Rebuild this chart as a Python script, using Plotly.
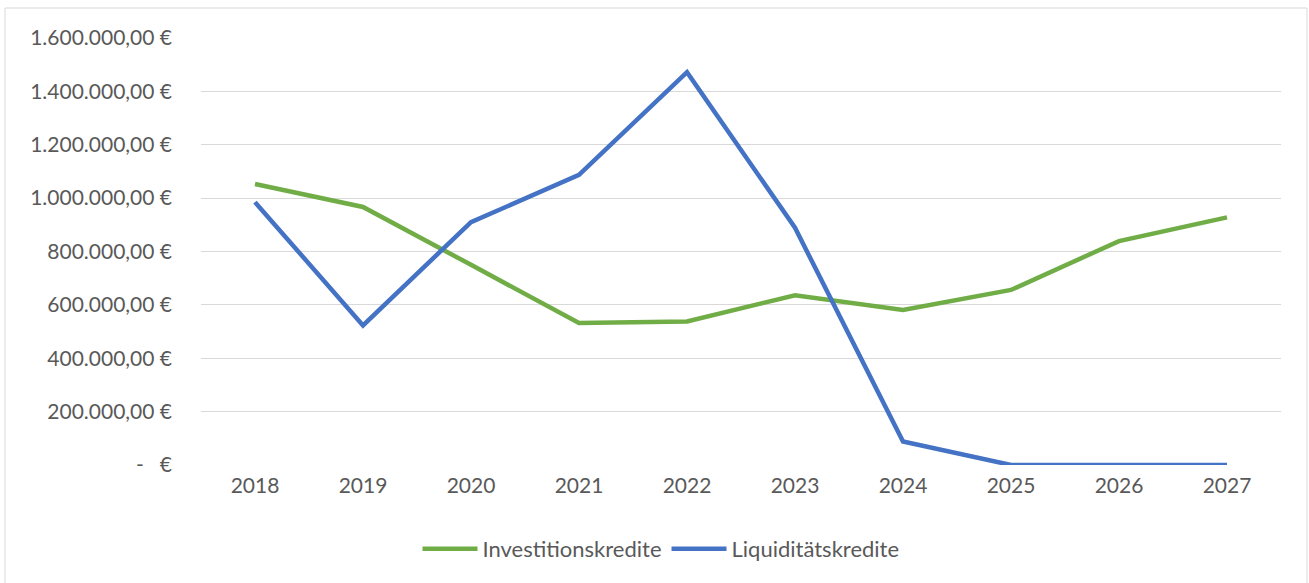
import plotly.graph_objects as go

years = ["2018", "2019", "2020", "2021", "2022", "2023", "2024", "2025", "2026", "2027"]
investitionskredite = [1053000, 967000, 750000, 532000, 538000, 636000, 581000, 656000, 839000, 928000]
liquiditaetskredite = [985000, 523000, 910000, 1087000, 1472000, 889000, 88000, 0, 0, 0]
tick_vals = [0, 200000, 400000, 600000, 800000, 1000000, 1200000, 1400000, 1600000]
tick_text = ["-   €", "200.000,00 €", "400.000,00 €", "600.000,00 €", "800.000,00 €",
             "1.000.000,00 €", "1.200.000,00 €", "1.400.000,00 €", "1.600.000,00 €"]

W, H = 1309, 583
ml, mr, mt, mb = 201, 28, 38, 118
pw, ph = W - ml - mr, H - mt - mb

fig = go.Figure()
fig.add_trace(go.Scatter(x=years, y=investitionskredite, mode="lines", name="Investitionskredite",
                         line=dict(color="#70AD47", width=4.5)))
fig.add_trace(go.Scatter(x=years, y=liquiditaetskredite, mode="lines", name="Liquiditätskredite",
                         line=dict(color="#4472C4", width=4.5)))

def px_x(p):
    return (p - ml) / pw

def px_y(p):
    return (H - mb - p) / ph

fig.add_shape(type="rect", xref="paper", yref="paper",
              x0=px_x(5), x1=px_x(1307), y0=px_y(600), y1=px_y(8),
              line=dict(color="#D9D9D9", width=1), fillcolor="rgba(0,0,0,0)", layer="below")

fig.update_layout(
    width=W, height=H,
    margin=dict(l=ml, r=mr, t=mt, b=mb),
    paper_bgcolor="white", plot_bgcolor="white",
    font=dict(family="Lato, 'Open Sans', sans-serif", size=21, color="#595959"),
    xaxis=dict(type="category", range=[-0.5, 9.5], showgrid=False, zeroline=False,
               showline=False, ticks="", ticklabelstandoff=6,
               tickfont=dict(size=21, color="#595959")),
    yaxis=dict(range=[0, 1600000], tickvals=tick_vals, ticktext=tick_text,
               showgrid=True, gridcolor="#D9D9D9", gridwidth=1, zeroline=False,
               showline=False, ticks="", ticklabelstandoff=28,
               tickfont=dict(size=21, color="#595959")),
    legend=dict(orientation="h", x=px_x(661), xanchor="center", y=px_y(549), yanchor="middle",
                font=dict(size=22, color="#595959"), itemwidth=55, tracegroupgap=0),
    showlegend=True,
)

fig.write_html("out.html", config={"displayModeBar": False},
               post_script="document.body.style.margin='0';")
